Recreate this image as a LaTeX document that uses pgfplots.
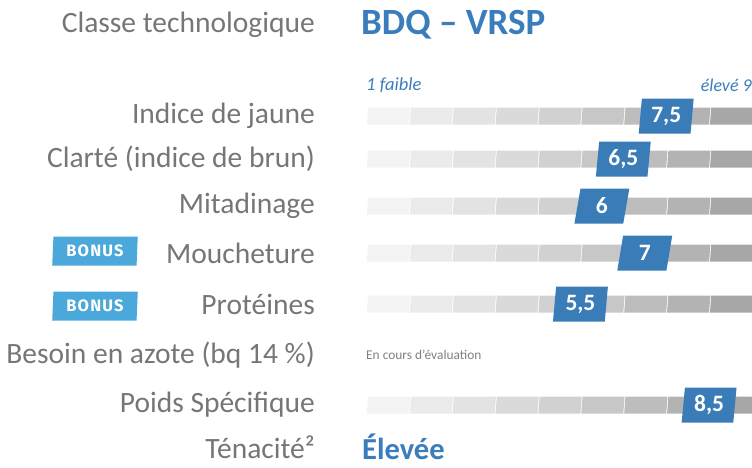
\documentclass[border=0pt]{standalone}
\usepackage{fontspec}
\setmainfont{Carlito}
\newfontfamily\bonusfont[LetterSpace=7]{Fira Sans}
\usepackage{pgfplots}
\pgfplotsset{compat=1.18}
\usetikzlibrary{shapes.geometric}
\definecolor{labelgray}{HTML}{767676}
\definecolor{notegray}{HTML}{7F7F7F}
\definecolor{titleblue}{HTML}{3A7DBD}
\definecolor{valblue}{HTML}{3A7CB7}
\definecolor{bonusblue}{HTML}{4AA8DA}
\definecolor{seg1}{HTML}{F3F3F3}
\definecolor{seg2}{HTML}{EBEBEB}
\definecolor{seg3}{HTML}{E3E3E3}
\definecolor{seg4}{HTML}{DADADA}
\definecolor{seg5}{HTML}{D1D1D1}
\definecolor{seg6}{HTML}{C7C7C7}
\definecolor{seg7}{HTML}{BDBDBD}
\definecolor{seg8}{HTML}{B3B3B3}
\definecolor{seg9}{HTML}{A7A7A7}
\newcommand\fs[1]{\fontsize{#1}{#1}\selectfont}
% one grey scale bar of nine slanted segments centred on row #1
\newcommand\segrow[1]{%
  \pgfplotsinvokeforeach{1,...,9}{%
    \addplot[fill=seg##1,draw=none,mark=none] coordinates
      {({##1-0.5+0.02},{#1+8.5}) ({##1+0.5},{#1+8.5})
       ({##1+0.5+0.03},{#1-8.5}) ({##1-0.5+0.05},{#1-8.5})} --cycle;
  }}

\begin{document}
\begin{tikzpicture}
\path[use as bounding box] (0,0) rectangle (752pt,467pt);
\begin{axis}[
  at={(366pt,0pt)},anchor=south west,
  width=386pt,height=467pt,scale only axis,
  xmin=0.5,xmax=9.5,ymin=0,ymax=467,y dir=reverse,
  clip=false,axis line style={draw=none},
  xtick=\empty,major tick length=0pt,
  ytick={25,116,159,206,253,304,355,405,447},
  yticklabels={Classe technologique,Indice de jaune,Clarté (indice de brun),
    Mitadinage,Moucheture,Protéines,Besoin en azote (bq 14 \%),
    Poids Spécifique,Ténacité²},
  yticklabel style={anchor=east,inner sep=0pt,xshift=-51pt,
    font=\fs{29.5},text=labelgray},
]
  \segrow{116}
  \segrow{159}
  \segrow{206}
  \segrow{253}
  \segrow{304}
  \segrow{405}

  \addplot[draw=none,mark=none,point meta=x,
    nodes near coords={\pgfmathprintnumber[use comma,assume math mode=true]{\pgfplotspointmeta}},
    every node near coord/.style={trapezium,trapezium left angle=84,
      trapezium right angle=96,trapezium stretches=true,fill=valblue,
      text=white,font=\bfseries\fs{23.5},minimum width=55pt,
      minimum height=35pt,inner sep=0pt,anchor=center}]
    coordinates {(7.5,116) (6.5,159) (6,206) (7,253) (5.5,304) (8.5,405)};

  \node[anchor=west,inner sep=0pt,xshift=-5pt,font=\bfseries\fs{37},text=titleblue]
    at (axis cs:0.5,25) {BDQ – VRSP};
  \node[anchor=west,inner sep=0pt,font=\itshape\fs{18.5},text=titleblue]
    at (axis cs:0.5,85) {1 faible};
  \node[anchor=east,inner sep=0pt,font=\itshape\fs{18},text=titleblue]
    at (axis cs:9.5,85) {élevé 9};
  \node[anchor=west,inner sep=0pt,font=\fs{13.4},text=notegray]
    at (axis cs:0.5,355) {En cours d’évaluation};
  \node[anchor=west,inner sep=0pt,xshift=-4pt,font=\bfseries\fs{30.5},text=titleblue]
    at (axis cs:0.5,447) {Élevée};
\end{axis}
\foreach \yy in {216pt,161pt}
  \node[trapezium,trapezium left angle=86,trapezium right angle=94,
    trapezium stretches=true,fill=bonusblue,text=white,
    minimum width=86pt,minimum height=29pt,inner sep=0pt,
    font=\bonusfont\bfseries\fs{16.5}] at (95pt,\yy) {BONUS};
\end{tikzpicture}
\end{document}
